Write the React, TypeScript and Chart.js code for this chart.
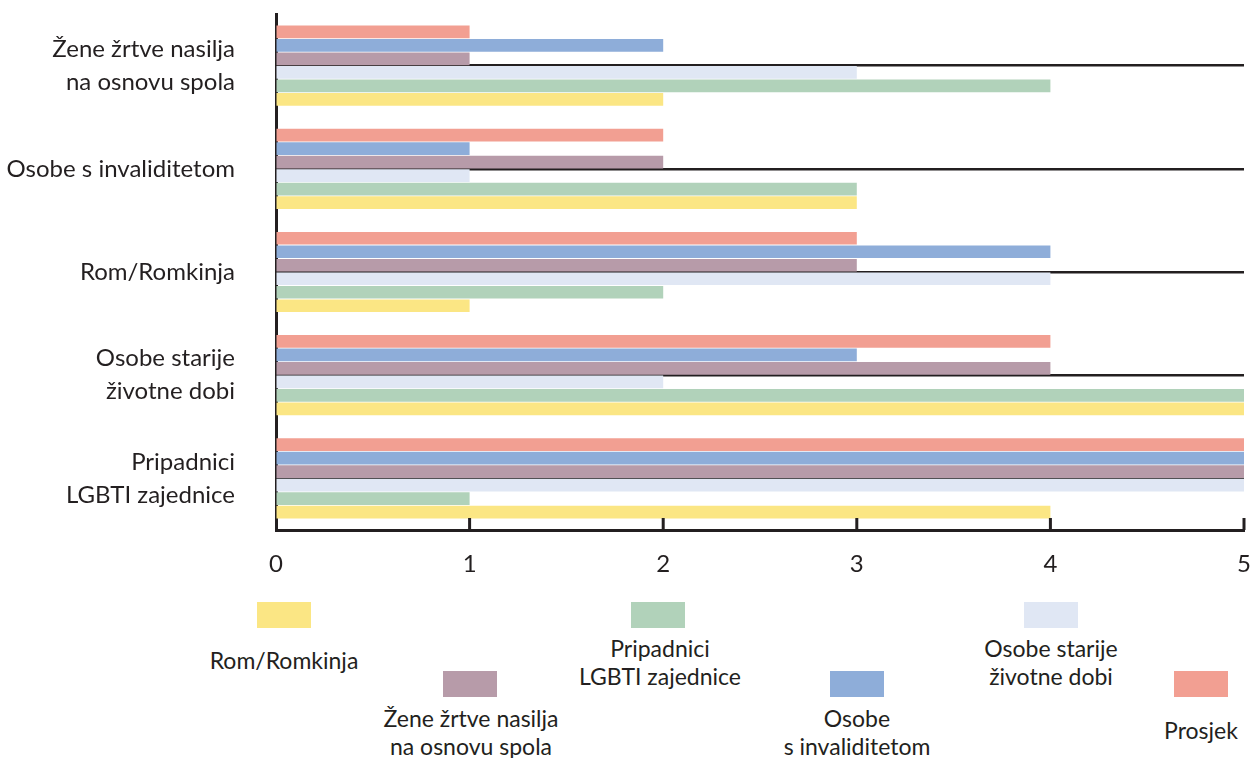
import React, { useEffect, useRef } from "react";
import { Chart, registerables } from "chart.js";

Chart.register(...registerables);

const categories: string[][] = [
  ["Žene žrtve nasilja", "na osnovu spola"],
  ["Osobe s invaliditetom"],
  ["Rom/Romkinja"],
  ["Osobe starije", "životne dobi"],
  ["Pripadnici", "LGBTI zajednice"],
];

const seriesNames: string[][] = [
  ["Prosjek"],
  ["Osobe", "s invaliditetom"],
  ["Žene žrtve nasilja", "na osnovu spola"],
  ["Osobe starije", "životne dobi"],
  ["Pripadnici", "LGBTI zajednice"],
  ["Rom/Romkinja"],
];

const prosjek = [1, 2, 3, 4, 5];
const invaliditet = [2, 1, 4, 3, 5];
const zene = [1, 2, 3, 4, 5];
const starije = [3, 1, 4, 2, 5];
const lgbti = [4, 3, 2, 5, 1];
const rom = [2, 3, 1, 5, 4];

const xTicks = [0, 1, 2, 3, 4, 5];

const seriesValues = [prosjek, invaliditet, zene, starije, lgbti, rom];
const colors = ["#f29f92", "#8eadd9", "#b79ba9", "#e0e7f4", "#b1d2ba", "#fbe684"];

// legend layout (series index, swatch pos, label center)
const legendLayout = [
  { s: 5, sx: 257, sy: 602, cx: 284, cy: 660 },
  { s: 4, sx: 631, sy: 602, cx: 660, cy: 662 },
  { s: 3, sx: 1024, sy: 602, cx: 1051, cy: 662 },
  { s: 2, sx: 443, sy: 671, cx: 471, cy: 732 },
  { s: 1, sx: 830, sy: 671, cx: 857, cy: 732 },
  { s: 0, sx: 1174, sy: 671, cx: 1201, cy: 730 },
];

const INK = "#231f20";
const FONT = "Lato, 'Open Sans', sans-serif";

const innerTicks = {
  id: "innerTicks",
  afterDatasetsDraw(chart: any) {
    const x = chart.scales.x;
    const area = chart.chartArea;
    const ctx = chart.ctx;
    ctx.save();
    ctx.strokeStyle = INK;
    ctx.lineWidth = 3;
    xTicks.slice(1).forEach((v) => {
      const px = x.getPixelForValue(v);
      ctx.beginPath();
      ctx.moveTo(px, area.bottom);
      ctx.lineTo(px, area.bottom - 12);
      ctx.stroke();
    });
    ctx.restore();
  },
};

export default function App() {
  const ref = useRef<HTMLCanvasElement | null>(null);

  useEffect(() => {
    if (!ref.current) return;
    const chart = new Chart(ref.current, {
      type: "bar",
      data: {
        labels: categories,
        datasets: seriesNames.map((n, i) => ({
          label: n.join(" "),
          data: seriesValues[i],
          backgroundColor: colors[i],
          borderWidth: 0,
          categoryPercentage: 0.785,
          barPercentage: 0.94,
        })),
      },
      options: {
        indexAxis: "y",
        animation: false,
        responsive: false,
        maintainAspectRatio: false,
        layout: { padding: { top: 14, right: 6, left: 0, bottom: 0 } },
        plugins: { legend: { display: false }, tooltip: { enabled: false } },
        scales: {
          x: {
            min: 0,
            max: 5,
            afterBuildTicks: (scale: any) => {
              scale.ticks = xTicks.map((v) => ({ value: v }));
            },
            afterFit: (scale: any) => {
              scale.height = 60;
              scale.paddingLeft = 0;
              scale.paddingRight = 0;
            },
            grid: { display: true, drawOnChartArea: false, drawTicks: false },
            border: { display: true, color: INK, width: 3 },
            ticks: {
              padding: 20,
              color: INK,
              font: { family: FONT, size: 24 },
            },
          },
          y: {
            afterFit: (scale: any) => {
              scale.width = 276;
              scale.paddingTop = 0;
              scale.paddingBottom = 0;
            },
            grid: { display: true, offset: false, drawTicks: false, color: INK, lineWidth: 2.5 },
            border: { display: true, color: INK, width: 3 },
            ticks: {
              padding: 41,
              color: INK,
              font: { family: FONT, size: 24, lineHeight: 1.375 },
            },
          },
        },
      },
      plugins: [innerTicks],
    });
    return () => chart.destroy();
  }, []);

  return (
    <div
      style={{
        position: "absolute",
        left: 0,
        top: 0,
        width: 1250,
        height: 758,
        background: "#fff",
        fontFamily: FONT,
        color: INK,
        overflow: "hidden",
      }}
    >
      <canvas
        ref={ref}
        width={1250}
        height={590}
        style={{ position: "absolute", left: 0, top: 0, width: 1250, height: 590 }}
      />
      {legendLayout.map((l) => (
        <React.Fragment key={l.s}>
          <div
            style={{
              position: "absolute",
              left: l.sx,
              top: l.sy,
              width: 54,
              height: 26,
              background: colors[l.s],
            }}
          />
          <div
            style={{
              position: "absolute",
              left: l.cx - 150,
              top: l.cy - 40,
              width: 300,
              height: 80,
              display: "flex",
              alignItems: "center",
              justifyContent: "center",
              textAlign: "center",
              fontSize: 23,
              lineHeight: "28px",
            }}
          >
            <div>
              {seriesNames[l.s].map((t, k) => (
                <div key={k}>{t}</div>
              ))}
            </div>
          </div>
        </React.Fragment>
      ))}
    </div>
  );
}
